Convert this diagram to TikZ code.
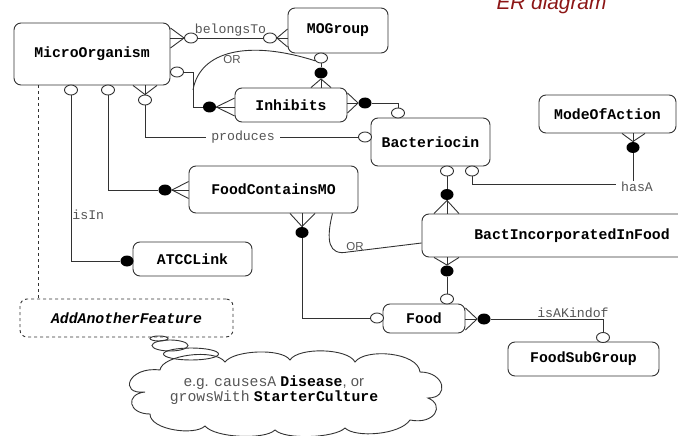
\documentclass[tikz,border=0pt]{standalone}
\usepackage{fontspec}
\setmainfont{Liberation Sans}
\setmonofont{Liberation Mono}
\usetikzlibrary{calc,shapes.geometric}

\definecolor{titlered}{RGB}{140,22,22}
\definecolor{linegray}{RGB}{50,50,50}
\definecolor{textgray}{RGB}{85,85,85}

\tikzset{
  entity/.style={draw=linegray, rounded corners=7pt, inner sep=0pt, text=black,
    font=\ttfamily\bfseries\fontsize{14.8}{16}\selectfont},
  relname/.style={font=\ttfamily\fontsize{13.2}{14}\selectfont, text=textgray, inner sep=1pt},
  ortext/.style={font=\fontsize{11.5}{12}\selectfont, text=textgray, inner sep=0pt},
  opt/.style={ellipse, draw=linegray, fill=white, minimum width=13pt,
    minimum height=10pt, inner sep=0pt},
  must/.style={ellipse, fill=black, minimum width=13pt, minimum height=11pt, inner sep=0pt},
  bubble/.style={ellipse, draw=linegray, inner sep=0pt}
}

\begin{document}
\begin{tikzpicture}[x=1pt, y=-1pt, line width=0.9pt, color=linegray]
  \useasboundingbox (0,0) rectangle (678,436);
  \clip (0,0) rectangle (678,436);

  \node [text=titlered, font=\itshape\fontsize{20.8}{22}\selectfont,
  anchor=base, inner sep=0pt] (title) at (551.5,10) {ER diagram};

  % entities
  \node [entity, minimum width=156pt, minimum height=62pt] (mo) at (92,54) {MicroOrganism};
  \node [entity, minimum width=100pt, minimum height=45pt] (mog) at (338,30.5) {MOGroup};
  \node [entity, minimum width=112pt, minimum height=34pt] (inh) at (291,105) {Inhibits};
  \node [entity, minimum width=119pt, minimum height=48pt] (bac) at (430.5,142) {Bacteriocin};
  \node [entity, minimum width=137pt, minimum height=38pt] (moa) at (607.5,114) {ModeOfAction};
  \node [entity, minimum width=169pt, minimum height=47pt] (fcm) at (273.5,189.5) {FoodContainsMO};
  \node [entity, minimum width=300pt, minimum height=43pt] (bif) at (572,235.5) {BactIncorporatedInFood};
  \node [entity, minimum width=119pt, minimum height=34pt] (atcc) at (192.5,259) {ATCCLink};
  \node [entity, dashed, minimum width=213pt, minimum height=38pt,
  font=\ttfamily\bfseries\itshape\fontsize{14.8}{16}\selectfont] (aaf) at (126.5,318) {AddAnotherFeature};
  \node [entity, minimum width=82pt, minimum height=29pt] (food) at (424,318.5) {Food};
  \node [entity, minimum width=151pt, minimum height=34pt] (fsg) at (583.5,359) {FoodSubGroup};

  % belongsTo
  \node [opt] (o1a) at (191,38) {};
  \node [opt] (o1b) at (270,38) {};
  \draw (mo.east |- o1a) -- (o1a) -- (o1b) -- (mog.west |- o1b);
  \draw ($(mo.east |- o1a)+(0,-10)$) -- (o1a.west) -- ($(mo.east |- o1a)+(0,10)$);
  \draw ($(mog.west |- o1b)+(0,-9)$) -- (o1b.east) -- ($(mog.west |- o1b)+(0,9)$);
  \node [relname, anchor=south] (belongs) at ($(o1a)!0.5!(o1b)$) {belongsTo};

  % MicroOrganism - Inhibits
  \node [opt] (o2) at (177,72) {};
  \node [must] (f2) at (209.5,107) {};
  \draw (o2) -- ++(16,0) |- (f2) -- (inh.west |- f2);
  \draw ($(inh.west |- f2)+(0,-9)$) -- (f2.east) -- ($(inh.west |- f2)+(0,9)$);

  % MOGroup - Inhibits
  \node [opt] (o3) at (321,58) {};
  \node [must] (f3) at (321,73) {};
  \draw (o3) -- (f3) -- (inh.north -| f3);
  \draw ($(inh.north -| f3)+(-10,0)$) -- (f3.south) -- ($(inh.north -| f3)+(10,0)$);

  \coordinate (or1) at (193,90);
  \draw (or1) .. controls (200,50) and (250,40) .. (o3.205);
  \node [ortext] (or1t) at (232,60) {OR};

  % Inhibits - Bacteriocin
  \node [must] (f5) at (365,103) {};
  \node [opt] (o5) at (398,113) {};
  \draw (inh.east |- f5) -- (f5) -| (o5);
  \draw ($(inh.east |- f5)+(0,-10)$) -- (f5.west) -- ($(inh.east |- f5)+(0,10)$);

  % produces
  \node [opt] (o6) at (145,100) {};
  \node [opt] (o6b) at (365,137) {};
  \draw (mo.south -| o6) -- (o6) |- node [relname, fill=white, pos=0.73,
  inner xsep=5pt] (prod) {produces} (o6b);
  \draw ($(mo.south -| o6)+(-12,0)$) -- (o6.north) -- ($(mo.south -| o6)+(12,0)$);

  % MicroOrganism - FoodContainsMO
  \node [opt] (o7) at (108,90) {};
  \node [must] (f7) at (165,190) {};
  \draw (o7) |- (f7) -- (fcm.west |- f7);
  \draw ($(fcm.west |- f7)+(0,-8.5)$) -- (f7.east) -- ($(fcm.west |- f7)+(0,8.5)$);

  % isIn
  \node [opt] (o8) at (71,90) {};
  \node [must] (f8) at (127,261) {};
  \draw (o8) |- node [relname, pos=0.36, anchor=west] (isin) {isIn} (f8);

  % AddAnotherFeature
  \coordinate (d9) at ($(mo.south west)+(25,0)$);
  \draw [dashed] (d9) -- (d9 |- aaf.north);

  % hasA
  \node [opt] (o10) at (472,171) {};
  \node [must] (f10) at (633,147.5) {};
  \coordinate (k10) at (633,184);
  \draw (o10) |- (k10) -- (f10) -- (moa.south -| f10);
  \draw ($(moa.south -| f10)+(-11,0)$) -- (f10.north) -- ($(moa.south -| f10)+(12,0)$);
  \node [relname, fill=white, inner xsep=5pt] (hasa) at (637,187) {hasA};

  % Bacteriocin - BactIncorporatedInFood
  \node [opt] (o11) at (447,171) {};
  \node [must] (f11) at (447,194.5) {};
  \draw (o11) -- (f11) -- (bif.north -| f11);
  \draw ($(bif.north -| f11)+(-13,0)$) -- (f11.south) -- ($(bif.north -| f11)+(12,0)$);

  % BactIncorporatedInFood - Food
  \node [must] (f12) at (447,271) {};
  \node [opt] (o12) at (447,299) {};
  \draw (bif.south -| f12) -- (f12) -- (o12);
  \draw ($(bif.south -| f12)+(-13,0)$) -- (f12.north) -- ($(bif.south -| f12)+(12,0)$);

  % FoodContainsMO - Food
  \node [must] (f13) at (302,232.5) {};
  \node [opt] (o13) at (377,318) {};
  \draw (fcm.south -| f13) -- (f13) |- (o13);
  \draw ($(fcm.south -| f13)+(-12,0)$) -- (f13.north) -- ($(fcm.south -| f13)+(13,0)$);

  \coordinate (or2) at ($(fcm.south east)+(-26,0)$);
  \draw (or2) .. controls (326,240) and (328,256) .. (348,252) -- ($(bif.west)+(0,7.5)$);
  \node [ortext] (or2t) at (355,247) {OR};

  % isAKindof
  \node [must] (f15) at (484,319) {};
  \node [opt] (o15) at (603,337.5) {};
  \draw (food.east |- f15) -- (f15) -| node [relname, pos=0.366, anchor=south]
  (kindof) {isAKindof} (o15);
  \draw ($(food.east |- f15)+(0,-11)$) -- (f15.west) -- ($(food.east |- f15)+(0,11)$);

  % thought
  \node [bubble, minimum width=18pt, minimum height=5pt] (bub1) at (159,338.5) {};
  \node [bubble, minimum width=36pt, minimum height=11pt] (bub2) at (170,345.5) {};
  \node [bubble, minimum width=55pt, minimum height=12pt] (bub3) at (191,354) {};
  \draw (145,392) .. controls (118,395) and (128,366) .. (160,370)
    .. controls (162,355) and (215,348) .. (225,362)
    .. controls (234,350) and (282,348) .. (290,360)
    .. controls (298,347) and (348,348) .. (355,362)
    .. controls (365,348) and (418,352) .. (420,372)
    .. controls (445,372) and (450,398) .. (428,398)
    .. controls (445,405) and (435,425) .. (410,420)
    .. controls (400,435) and (355,438) .. (345,428)
    .. controls (335,438) and (285,440) .. (275,430)
    .. controls (265,440) and (215,438) .. (205,426)
    .. controls (195,436) and (150,430) .. (150,414)
    .. controls (128,414) and (125,394) .. cycle;
  \node [align=center, text=textgray, font=\fontsize{14.8}{15.5}\selectfont]
  (ideatxt) at (274,390) {e.g. {\ttfamily causesA} {\ttfamily\bfseries\color{black}Disease}, or\\
    {\ttfamily growsWith} {\ttfamily\bfseries\color{black}StarterCulture}};
\end{tikzpicture}
\end{document}
